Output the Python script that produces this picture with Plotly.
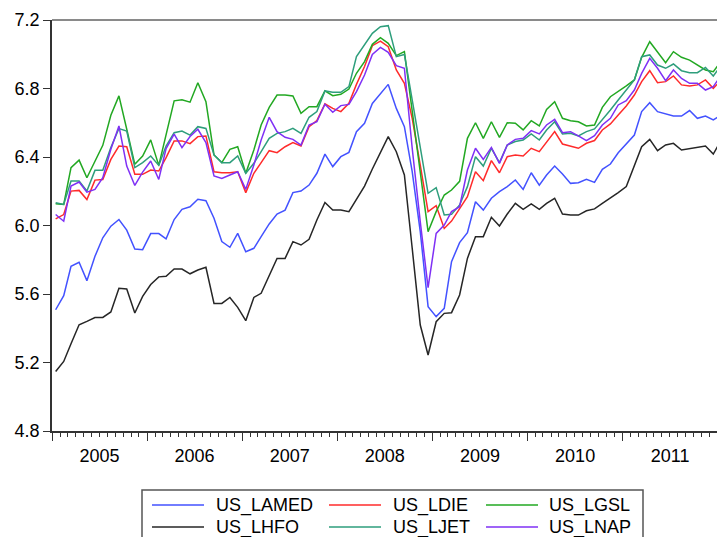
import pandas as pd
import plotly.graph_objects as go

# monthly observations, Jan 2005 .. Jan 2012 (log prices)
MONTHS = pd.date_range("2005-01-01", periods=85, freq="MS") + pd.Timedelta(days=14)

US_LAMED = [
    5.508, 5.590, 5.762, 5.785, 5.678, 5.820, 5.928, 5.996, 6.035, 5.973, 5.863, 5.859,
    5.953, 5.953, 5.922, 6.035, 6.094, 6.109, 6.153, 6.145, 6.042, 5.906, 5.873, 5.954,
    5.847, 5.867, 5.935, 6.009, 6.067, 6.090, 6.192, 6.201, 6.236, 6.305, 6.417, 6.344,
    6.402, 6.427, 6.548, 6.597, 6.713, 6.772, 6.824, 6.684, 6.577, 6.314, 5.964, 5.526,
    5.468, 5.516, 5.789, 5.900, 5.958, 6.139, 6.090, 6.159, 6.198, 6.227, 6.266, 6.211,
    6.308, 6.236, 6.295, 6.347, 6.301, 6.246, 6.250, 6.270, 6.252, 6.328, 6.359, 6.425,
    6.476, 6.528, 6.665, 6.717, 6.665, 6.651, 6.639, 6.639, 6.671, 6.626, 6.639, 6.616,
    6.645,
]
US_LDIE = [
    6.039, 6.064, 6.201, 6.205, 6.152, 6.265, 6.269, 6.386, 6.464, 6.460, 6.299, 6.299,
    6.324, 6.318, 6.396, 6.494, 6.494, 6.478, 6.519, 6.523, 6.314, 6.308, 6.308, 6.314,
    6.192, 6.305, 6.367, 6.437, 6.425, 6.460, 6.484, 6.464, 6.577, 6.612, 6.711, 6.684,
    6.665, 6.713, 6.824, 6.928, 7.050, 7.077, 7.044, 6.908, 6.830, 6.626, 6.353, 6.081,
    6.116, 5.983, 6.026, 6.097, 6.168, 6.314, 6.262, 6.379, 6.308, 6.402, 6.412, 6.406,
    6.451, 6.431, 6.490, 6.548, 6.476, 6.464, 6.451, 6.480, 6.496, 6.558, 6.593, 6.645,
    6.698, 6.762, 6.840, 6.904, 6.834, 6.840, 6.873, 6.821, 6.815, 6.821, 6.850, 6.801,
    6.850,
]
US_LGSL = [
    6.127, 6.123, 6.338, 6.382, 6.279, 6.371, 6.468, 6.644, 6.757, 6.562, 6.357, 6.406,
    6.500, 6.351, 6.523, 6.728, 6.734, 6.720, 6.834, 6.723, 6.412, 6.367, 6.445, 6.460,
    6.305, 6.441, 6.587, 6.690, 6.762, 6.762, 6.756, 6.655, 6.694, 6.694, 6.786, 6.758,
    6.766, 6.797, 6.889, 6.957, 7.058, 7.097, 7.064, 6.992, 7.015, 6.665, 6.314, 5.964,
    6.081, 6.178, 6.207, 6.258, 6.509, 6.600, 6.509, 6.606, 6.515, 6.600, 6.597, 6.558,
    6.612, 6.581, 6.678, 6.723, 6.626, 6.612, 6.606, 6.581, 6.587, 6.690, 6.752, 6.781,
    6.815, 6.850, 6.982, 7.073, 7.015, 6.951, 7.015, 6.982, 6.966, 6.937, 6.908, 6.898,
    6.962,
]
US_LHFO = [
    5.147, 5.206, 5.309, 5.420, 5.440, 5.463, 5.463, 5.495, 5.633, 5.629, 5.489, 5.586,
    5.655, 5.700, 5.703, 5.746, 5.746, 5.718, 5.740, 5.756, 5.545, 5.545, 5.580, 5.522,
    5.444, 5.580, 5.604, 5.705, 5.808, 5.808, 5.906, 5.886, 5.919, 6.032, 6.134, 6.090,
    6.090, 6.081, 6.150, 6.230, 6.330, 6.430, 6.519, 6.431, 6.295, 5.867, 5.419, 5.244,
    5.438, 5.487, 5.491, 5.594, 5.808, 5.935, 5.935, 6.048, 5.997, 6.067, 6.129, 6.094,
    6.126, 6.094, 6.129, 6.159, 6.067, 6.061, 6.061, 6.086, 6.097, 6.129, 6.159, 6.192,
    6.227, 6.353, 6.460, 6.503, 6.437, 6.470, 6.480, 6.441, 6.450, 6.456, 6.464, 6.417,
    6.499,
]
US_LJET = [
    6.133, 6.123, 6.260, 6.260, 6.201, 6.322, 6.322, 6.455, 6.566, 6.552, 6.338, 6.367,
    6.406, 6.351, 6.464, 6.542, 6.552, 6.528, 6.577, 6.567, 6.412, 6.367, 6.367, 6.406,
    6.305, 6.363, 6.431, 6.509, 6.538, 6.548, 6.567, 6.538, 6.632, 6.665, 6.786, 6.778,
    6.778, 6.811, 6.986, 7.054, 7.122, 7.161, 7.167, 6.986, 6.999, 6.733, 6.451, 6.188,
    6.221, 6.061, 6.065, 6.120, 6.227, 6.402, 6.347, 6.451, 6.367, 6.470, 6.490, 6.499,
    6.535, 6.499, 6.558, 6.606, 6.535, 6.538, 6.523, 6.548, 6.564, 6.616, 6.674, 6.733,
    6.791, 6.850, 6.986, 6.996, 6.937, 6.918, 6.943, 6.904, 6.892, 6.892, 6.923, 6.873,
    6.937,
]
US_LNAP = [
    6.064, 6.025, 6.230, 6.254, 6.195, 6.211, 6.279, 6.445, 6.581, 6.347, 6.234, 6.312,
    6.377, 6.269, 6.449, 6.533, 6.455, 6.520, 6.562, 6.484, 6.289, 6.275, 6.295, 6.314,
    6.211, 6.353, 6.499, 6.632, 6.548, 6.515, 6.503, 6.470, 6.587, 6.606, 6.708, 6.661,
    6.700, 6.707, 6.782, 6.879, 6.999, 7.040, 7.011, 6.933, 6.918, 6.451, 6.022, 5.637,
    5.954, 6.003, 6.081, 6.110, 6.324, 6.451, 6.386, 6.456, 6.363, 6.470, 6.503, 6.509,
    6.554, 6.535, 6.587, 6.620, 6.542, 6.548, 6.523, 6.495, 6.525, 6.587, 6.626, 6.704,
    6.729, 6.791, 6.888, 6.976, 6.918, 6.846, 6.908, 6.859, 6.830, 6.830, 6.791, 6.811,
    6.879,
]

SERIES_NAMES = ["US_LAMED", "US_LDIE", "US_LGSL", "US_LHFO", "US_LJET", "US_LNAP"]
SERIES_VALUES = [US_LAMED, US_LDIE, US_LGSL, US_LHFO, US_LJET, US_LNAP]
COLORS = ["#4352ff", "#ff2b2b", "#22a822", "#262626", "#2e9e7c", "#7f30f5"]

Y_TICKS = [4.8, 5.2, 5.6, 6.0, 6.4, 6.8, 7.2]

# page is 725 x 537, the browser body adds an 8px margin around the plot div
PAGE_W, PAGE_H = 725, 537
OFF = 8
# plot box in page pixels
L, R, T, B = 52, 725, 20, 431
FONT = "Liberation Sans, Arial, sans-serif"


def px_x(p):
    return (p - L) / (R - L)


def px_y(p):
    return (B - p) / (B - T)


fig = go.Figure()
# black first so the coloured lines sit on top of it
for i in [3, 0, 1, 2, 4, 5]:
    fig.add_trace(
        go.Scatter(
            x=MONTHS,
            y=SERIES_VALUES[i],
            name=SERIES_NAMES[i],
            mode="lines",
            line=dict(color=COLORS[i], width=1.5),
            showlegend=False,
        )
    )

# legend box drawn by hand: 3 columns x 2 rows like the original
col_line = [152, 329, 486]
col_text = [214, 391, 547]
row_y = [505, 527]
shapes = [
    dict(type="rect", xref="paper", yref="paper",
         x0=px_x(142), x1=px_x(643), y0=px_y(560), y1=px_y(490),
         line=dict(color="#555555", width=1.5), fillcolor="white", layer="below"),
    dict(type="line", xref="paper", yref="paper",
         x0=0, x1=1, y0=1, y1=1, line=dict(color="#8a8a8a", width=2)),
]
annotations = []
for i, name in enumerate(SERIES_NAMES):
    c, r = i % 3, i // 3
    shapes.append(dict(type="line", xref="paper", yref="paper",
                       x0=px_x(col_line[c]), x1=px_x(col_line[c] + 52),
                       y0=px_y(row_y[r]), y1=px_y(row_y[r]),
                       line=dict(color=COLORS[i], width=1.5)))
    annotations.append(dict(xref="paper", yref="paper",
                            x=px_x(col_text[c]), y=px_y(row_y[r]),
                            text=name, showarrow=False,
                            xanchor="left", yanchor="middle",
                            font=dict(size=18, color="black", family=FONT)))

fig.update_layout(
    width=PAGE_W - OFF,
    height=PAGE_H - OFF,
    margin=dict(l=L - OFF, r=PAGE_W - R, t=T - OFF, b=PAGE_H - B, pad=0),
    paper_bgcolor="white",
    plot_bgcolor="white",
    font=dict(family=FONT, color="black"),
    shapes=shapes,
    annotations=annotations,
    showlegend=False,
)
fig.update_xaxes(
    type="date",
    range=["2005-01-01", "2012-01-29"],
    tick0="2005-01-01",
    dtick="M12",
    tickformat="%Y",
    ticklabelmode="period",
    ticks="outside",
    ticklen=8,
    tickcolor="#333333",
    showline=True,
    linecolor="#333333",
    linewidth=1.5,
    showgrid=False,
    zeroline=False,
    tickfont=dict(size=18),
    ticklabelstandoff=0,
    minor=dict(dtick="M1", ticks="outside", ticklen=4, tickcolor="#333333"),
)
fig.update_yaxes(
    range=[4.8, 7.2],
    tickvals=Y_TICKS,
    ticktext=[f"{v:.1f}" for v in Y_TICKS],
    ticks="outside",
    ticklen=7,
    tickcolor="#333333",
    showline=True,
    linecolor="#333333",
    linewidth=1.5,
    showgrid=False,
    zeroline=False,
    tickfont=dict(size=18),
)

fig.write_html("out.html")
